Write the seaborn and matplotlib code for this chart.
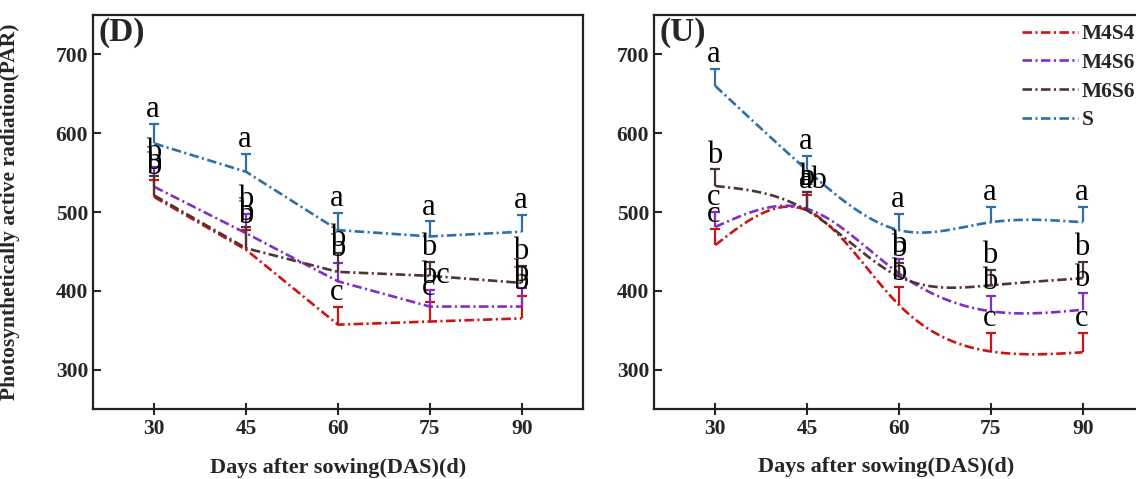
import numpy as np
import pandas as pd
import seaborn as sns
import matplotlib
matplotlib.use("Agg")
import matplotlib.pyplot as plt
from matplotlib.lines import Line2D

# sampling days and treatments
days = [30, 45, 60, 75, 90]
groups = ["M4S4", "M4S6", "M6S6", "S"]

# panel (D): means and upper error
d_m4s4 = [519, 452, 357, 361, 365]
d_m4s6 = [532, 473, 412, 380, 380]
d_m6s6 = [521, 454, 424, 419, 410]
d_s = [587, 551, 477, 469, 475]
d_m4s4_err = [21, 25, 23, 25, 28]
d_m4s6_err = [25, 25, 23, 21, 23]
d_m6s6_err = [25, 27, 24, 18, 21]
d_s_err = [25, 23, 22, 19, 21]
d_m4s4_lab = ["b", "b", "c", "c", "b"]
d_m4s6_lab = ["b", "b", "b", "bc", "b"]
d_m6s6_lab = ["b", "b", "b", "b", "b"]
d_s_lab = ["a", "a", "a", "a", "a"]

# panel (U)
u_m4s4 = [458, 502, 382, 323, 322]
u_m4s6 = [481, 504, 422, 374, 376]
u_m6s6 = [533, 502, 418, 407, 416]
u_s = [660, 553, 477, 487, 487]
u_m4s4_err = [21, 20, 23, 23, 24]
u_m4s6_err = [19, 21, 18, 19, 21]
u_m6s6_err = [21, 23, 17, 20, 21]
u_s_err = [22, 18, 21, 19, 19]
u_m4s4_lab = ["c", "ab", "b", "c", "c"]
u_m4s6_lab = ["c", "a", "b", "b", "b"]
u_m6s6_lab = ["b", "b", "b", "b", "b"]
u_s_lab = ["a", "a", "a", "a", "a"]

colors = {"M4S4": "#cc1414", "M4S6": "#7f2fc8", "M6S6": "#4f3434", "S": "#2f6ea6"}
dash = (3.6, 1.3, 0.8, 1.3)
lw = 1.9

sns.set_style("ticks")
plt.rcParams["font.family"] = ["Liberation Serif", "DejaVu Serif"]
plt.rcParams["font.weight"] = "bold"
plt.rcParams["axes.labelweight"] = "bold"


def spline(x, y, xs):
    # natural cubic spline, used only to draw the smoothed curve in (U)
    x = np.asarray(x, float)
    y = np.asarray(y, float)
    n = len(x)
    h = np.diff(x)
    A = np.zeros((n, n))
    r = np.zeros(n)
    A[0, 0] = A[-1, -1] = 1
    for i in range(1, n - 1):
        A[i, i - 1] = h[i - 1]
        A[i, i] = 2 * (h[i - 1] + h[i])
        A[i, i + 1] = h[i]
        r[i] = 3 * ((y[i + 1] - y[i]) / h[i] - (y[i] - y[i - 1]) / h[i - 1])
    c = np.linalg.solve(A, r)
    b = (y[1:] - y[:-1]) / h - h * (2 * c[:-1] + c[1:]) / 3
    d = (c[1:] - c[:-1]) / (3 * h)
    idx = np.clip(np.searchsorted(x, xs) - 1, 0, n - 2)
    dx = xs - x[idx]
    return y[idx] + b[idx] * dx + c[idx] * dx ** 2 + d[idx] * dx ** 3


def draw_panel(ax, means, errs, labs, smooth, tag):
    rows = []
    for g in groups:
        if smooth:
            xs = np.linspace(days[0], days[-1], 200)
            ys = spline(days, means[g], xs)
        else:
            xs, ys = days, means[g]
        for xv, yv in zip(xs, ys):
            rows.append({"day": xv, "value": yv, "group": g})
    df = pd.DataFrame(rows)
    sns.lineplot(data=df, x="day", y="value", hue="group", style="group",
                 palette=colors, dashes={g: dash for g in groups},
                 linewidth=lw, estimator=None, sort=False, legend=False, ax=ax)
    for g in groups:
        eb = ax.errorbar(days, means[g], yerr=[np.zeros(len(days)), errs[g]],
                         fmt="none", ecolor=colors[g], elinewidth=1.6,
                         capsize=3.8, capthick=1.6)
        eb[1][0].set_visible(False)
        for xv, yv, e, t in zip(days, means[g], errs[g], labs[g]):
            ax.annotate(t, (xv, yv + e), xytext=(-6, 5), textcoords="offset points",
                        ha="left", va="baseline", fontsize=22, fontweight="normal",
                        color="black")
    ax.set_xlim(20, 100)
    ax.set_ylim(250, 750)
    ax.set_xticks(days)
    ax.set_yticks([300, 400, 500, 600, 700])
    ax.tick_params(axis="both", labelsize=15.5, width=1.5)
    ax.tick_params(axis="y", direction="in", length=6)
    ax.tick_params(axis="x", direction="inout", length=8)
    for s in ax.spines.values():
        s.set_linewidth(1.6)
        s.set_color("#222222")
    ax.set_xlabel("Days after sowing(DAS)(d)", fontsize=16)
    ax.set_ylabel("")
    ax.text(0.012, 0.995, tag, transform=ax.transAxes, ha="left", va="top",
            fontsize=24, fontweight="bold")


fig = plt.figure(figsize=(11.36, 4.79), dpi=100)
ax1 = fig.add_axes([93 / 1136, 1 - 409 / 479, 490 / 1136, 394 / 479])
ax2 = fig.add_axes([654 / 1136, 1 - 409 / 479, 490 / 1136, 394 / 479])

draw_panel(ax1,
           {"M4S4": d_m4s4, "M4S6": d_m4s6, "M6S6": d_m6s6, "S": d_s},
           {"M4S4": d_m4s4_err, "M4S6": d_m4s6_err, "M6S6": d_m6s6_err, "S": d_s_err},
           {"M4S4": d_m4s4_lab, "M4S6": d_m4s6_lab, "M6S6": d_m6s6_lab, "S": d_s_lab},
           False, "(D)")
draw_panel(ax2,
           {"M4S4": u_m4s4, "M4S6": u_m4s6, "M6S6": u_m6s6, "S": u_s},
           {"M4S4": u_m4s4_err, "M4S6": u_m4s6_err, "M6S6": u_m6s6_err, "S": u_s_err},
           {"M4S4": u_m4s4_lab, "M4S6": u_m4s6_lab, "M6S6": u_m6s6_lab, "S": u_s_lab},
           True, "(U)")

ax1.set_ylabel("Photosynthetically active radiation(PAR)", fontsize=15.5)
ax1.yaxis.set_label_coords(-0.149, 0.5)
ax1.xaxis.set_label_coords(0.5, -0.125)
ax2.xaxis.set_label_coords(0.473, -0.122)

handles = [Line2D([0], [0], color=colors[g], lw=lw, dashes=dash) for g in groups]
ax2.legend(handles, groups, loc="upper left", bbox_to_anchor=(0.737, 0.993),
           frameon=False, fontsize=15.5, handlelength=2.6, handletextpad=0.2,
           labelspacing=0.4, borderaxespad=0, borderpad=0.3)

fig.savefig("out.png", dpi=100)
